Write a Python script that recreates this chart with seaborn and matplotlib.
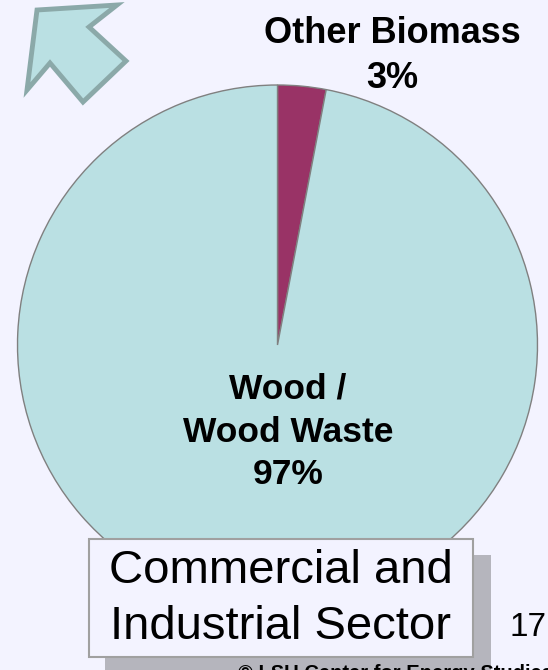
import matplotlib
matplotlib.use("Agg")
import matplotlib.pyplot as plt
from matplotlib.patches import Rectangle, Polygon
import seaborn as sns

categories = ["Other Biomass", "Wood /\nWood Waste"]
shares = [3, 97]
pct_labels = ["3%", "97%"]
slice_colors = ["#993366", "#BAE0E3"]

sns.set_theme(style="white")
plt.rcParams['font.family'] = ['Liberation Sans', 'DejaVu Sans']

W, H = 548, 670
BG = "#F3F3FF"
fig = plt.figure(figsize=(W / 100, H / 100), dpi=100, facecolor=BG)

def fx(x):
    return x / W

def fy(y):
    return 1 - y / H

# pie axes
cx, cy, r = 277.5, 345, 260
ax = fig.add_axes([fx(cx - r), fy(cy + r), 2 * r / W, 2 * r / H])
ax.set_facecolor("none")
ax.pie(shares, colors=slice_colors, startangle=90, counterclock=False,
       radius=1.0, wedgeprops=dict(edgecolor="#808080", linewidth=1.0))
ax.set_xlim(-1, 1)
ax.set_ylim(-1, 1)
ax.set_aspect("equal")
ax.axis("off")

# labels
fig.text(fx(392), fy(56), categories[0] + "\n" + pct_labels[0], ha="center", va="center",
         fontsize=26, fontweight="bold", color="black", linespacing=1.38)
fig.text(fx(288), fy(432), categories[1] + "\n" + pct_labels[1], ha="center", va="center",
         fontsize=25.5, fontweight="bold", color="black", linespacing=1.38)

# arrow in upper-left
arrow_pts = [(37, 10), (117, 5), (89, 27), (126, 61), (83, 102), (50, 63), (27, 90)]
arrow = Polygon([(fx(x), fy(y)) for x, y in arrow_pts], closed=True,
                transform=fig.transFigure, facecolor="#BAE0E3", edgecolor="#8BA9A9",
                linewidth=3.5, joinstyle="miter")
fig.patches.append(arrow)

# shadow and title box
shadow = Rectangle((fx(105), fy(680)), fx(491) - fx(105), fy(555) - fy(680),
                   transform=fig.transFigure, facecolor="#B5B5BD", edgecolor="none")
fig.patches.append(shadow)
box = Rectangle((fx(89), fy(657)), fx(473) - fx(89), fy(539) - fy(657),
                transform=fig.transFigure, facecolor=BG, edgecolor="#A0A0A0", linewidth=1.5)
fig.patches.append(box)
fig.text(fx(281), fy(599), "Commercial and\nIndustrial Sector", ha="center", va="center",
         fontsize=34, color="black", linespacing=1.36)

fig.text(fx(509), fy(628), "17", ha="left", va="center", fontsize=24, color="black")
fig.text(fx(238), fy(664), "© LSU Center for Energy Studies", ha="left", va="top",
         fontsize=14.5, fontweight="bold", color="black")

fig.savefig("out.png", dpi=100, facecolor=BG)
